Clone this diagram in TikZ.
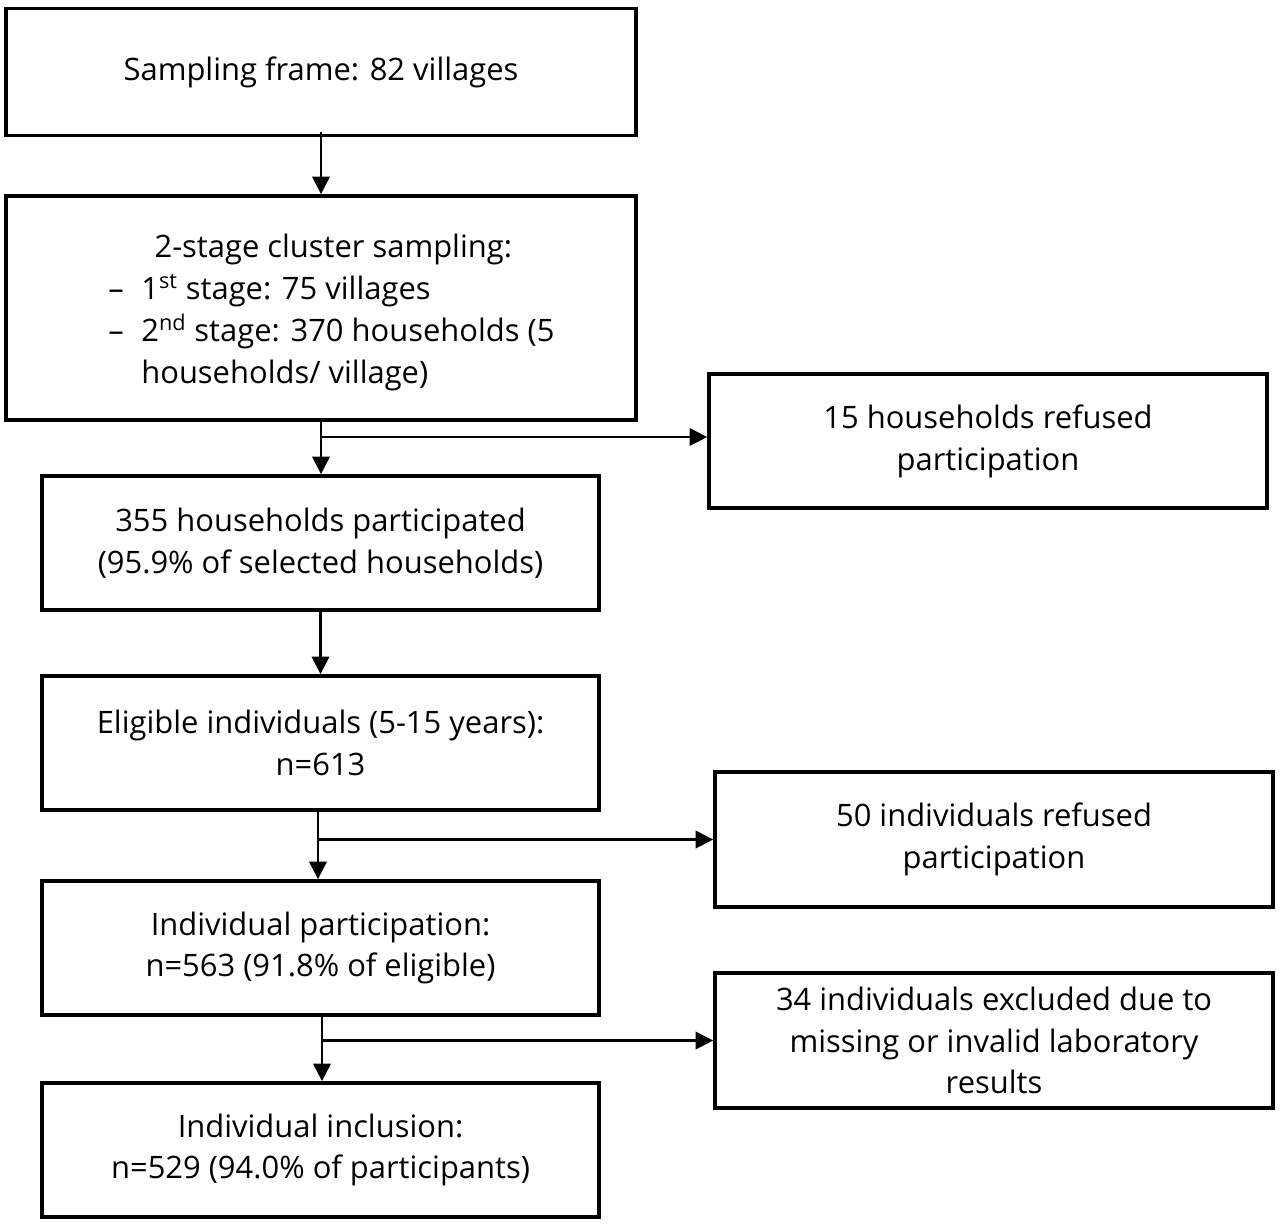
\documentclass[tikz,border=0pt]{standalone}
\usepackage{fontspec}
\setmainfont{Open Sans}
\usetikzlibrary{positioning, arrows.meta}
\newcommand\stagedash{\makebox[0.66cm][l]{--}}
\tikzset{
	box/.style={draw, line width=2.2pt, align=center, inner sep=0pt, font=\fontsize{17.6}{23.8}\selectfont},
	flow/.style={line width=1.3pt, -{Triangle[length=10pt, width=10pt]}}
}
\begin{document}
\begin{tikzpicture}[x=0.02cm, y=-0.02cm]
	\useasboundingbox (0,0) rectangle (1280,1225);
	% main column
	\node [box, minimum width=12.6cm, minimum height=2.54cm] (frame) at (321,72) {Sampling frame: 82 villages};
	\node [box, minimum width=12.6cm, minimum height=4.48cm] (cluster) at (321,308) {};
	\node [align=left, anchor=north west, inner sep=0pt, font=\fontsize{17.6}{23.8}\selectfont] (stages) at (108,234)
		{\makebox[9.6cm][c]{\hspace*{-0.6cm}2-stage cluster sampling:}\\
		\stagedash 1\textsuperscript{st} stage: 75 villages\\
		\stagedash 2\textsuperscript{nd} stage: 370 households (5\\
		\hspace*{0.66cm}households/ village)};
	\node [box, minimum width=11.14cm, minimum height=2.68cm] (households) at (320.5,543) {355 households participated\\(95.9\% of selected households)};
	\node [box, minimum width=11.14cm, minimum height=2.68cm] (eligible) at (320.5,743) {Eligible individuals (5-15 years):\\n=613};
	\node [box, minimum width=11.14cm, minimum height=2.68cm] (participation) at (320.5,948) {Individual participation:\\n=563 (91.8\% of eligible)};
	\node [box, minimum width=11.14cm, minimum height=2.68cm] (inclusion) at (320.5,1150) {Individual inclusion:\\n=529 (94.0\% of participants)};
	% exclusions
	\node [box, minimum width=11.16cm, minimum height=2.68cm] (hhrefused) at (988,441) {15 households refused\\participation};
	\node [box, minimum width=11.16cm, minimum height=2.7cm] (indrefused) at (994,839.5) {50 individuals refused\\participation};
	\node [box, minimum width=11.16cm, minimum height=2.7cm] (excluded) at (994,1040.5) {34 individuals excluded due to\\missing or invalid laboratory\\results};
	% connectors
	\draw [flow] (frame.south |- 132,132) coordinate (top1) -- (cluster.north -| top1);
	\draw [flow] (cluster.south) -- (households.north -| cluster.south);
	\coordinate (split1) at (321,437);
	\draw [flow] (split1) -- (hhrefused.west |- split1);
	\draw [flow] (households) -- (eligible);
	\draw [flow] (318,810) coordinate (top2) -- (participation.north -| top2);
	\coordinate (split2) at (318,839.5);
	\draw [flow] (split2) -- (indrefused.west |- split2);
	\draw [flow] (322,1015) coordinate (top3) -- (inclusion.north -| top3);
	\coordinate (split3) at (322,1040.5);
	\draw [flow] (split3) -- (excluded.west |- split3);
\end{tikzpicture}
\end{document}
